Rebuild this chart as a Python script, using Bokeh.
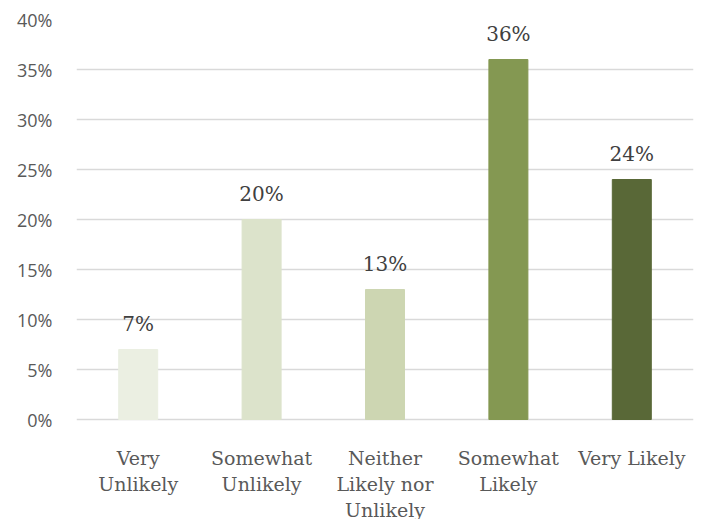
from bokeh.plotting import figure
from bokeh.models import ColumnDataSource, LabelSet, NumeralTickFormatter, FixedTicker
from bokeh.core.properties import value
from bokeh.embed import file_html
from bokeh.resources import INLINE

# Survey response categories and share of respondents
categories = ["Very Unlikely", "Somewhat Unlikely", "Neither Likely nor Unlikely",
              "Somewhat Likely", "Very Likely"]
shares = [0.07, 0.20, 0.13, 0.36, 0.24]
bar_colors = ["#EBEFE2", "#DCE3CB", "#CDD6B2", "#849852", "#596837"]
wrapped_labels = [["Very", "Unlikely"], ["Somewhat", "Unlikely"],
                  ["Neither", "Likely nor", "Unlikely"],
                  ["Somewhat", "Likely"], ["Very Likely"]]
y_ticks = [0, 0.05, 0.10, 0.15, 0.20, 0.25, 0.30, 0.35, 0.40]

SERIF = value("DejaVu Serif")

source = ColumnDataSource(dict(
    cat=categories,
    share=shares,
    color=bar_colors,
    label=[f"{round(v * 100)}%" for v in shares],
))

# one row per line of the wrapped category names, stacked below the zero line
first_line, line_step = 0.038, 0.026
cat_rows = dict(cat=[], line=[], y=[])
for cat, lines in zip(categories, wrapped_labels):
    for i, line in enumerate(lines):
        cat_rows["cat"].append(cat)
        cat_rows["line"].append(line)
        cat_rows["y"].append(-(first_line + i * line_step))
cat_source = ColumnDataSource(cat_rows)

# the frame extends below zero to hold the category names
p = figure(
    x_range=categories, y_range=(-0.10, 0.40),
    frame_width=617, frame_height=500,
    min_border_left=76, min_border_right=14, min_border_top=19, min_border_bottom=0,
    output_backend="svg", toolbar_location=None, tools="",
)
p.outline_line_color = None
p.background_fill_color = "white"

p.vbar(x="cat", top="share", width=0.316, color="color", source=source)

labels = LabelSet(x="cat", y="share", text="label", source=source,
                  text_align="center", text_baseline="bottom", y_offset=14,
                  text_font=SERIF, text_font_size="20px", text_color="#404040")
p.add_layout(labels)

p.text(x="cat", y="y", text="line", source=cat_source,
       text_align="center", text_baseline="alphabetic",
       text_font=SERIF, text_font_size="19px", text_color="#595959")

# y axis: percentage ticks only from 0% up, no axis line or tick marks
p.yaxis.ticker = FixedTicker(ticks=y_ticks)
p.yaxis.formatter = NumeralTickFormatter(format="0%")
p.yaxis.axis_line_color = None
p.yaxis.major_tick_line_color = None
p.yaxis.minor_tick_line_color = None
p.yaxis.major_label_standoff = 18
p.yaxis.major_label_text_font = "Open Sans"
p.yaxis.major_label_text_font_size = "18px"
p.yaxis.major_label_text_color = "#595959"

p.xaxis.visible = False

p.xgrid.grid_line_color = None
p.ygrid.ticker = FixedTicker(ticks=y_ticks)
p.ygrid.grid_line_color = "#D9D9D9"
p.ygrid.grid_line_width = 1.5

open("out.html", "w").write(file_html(p, INLINE))
